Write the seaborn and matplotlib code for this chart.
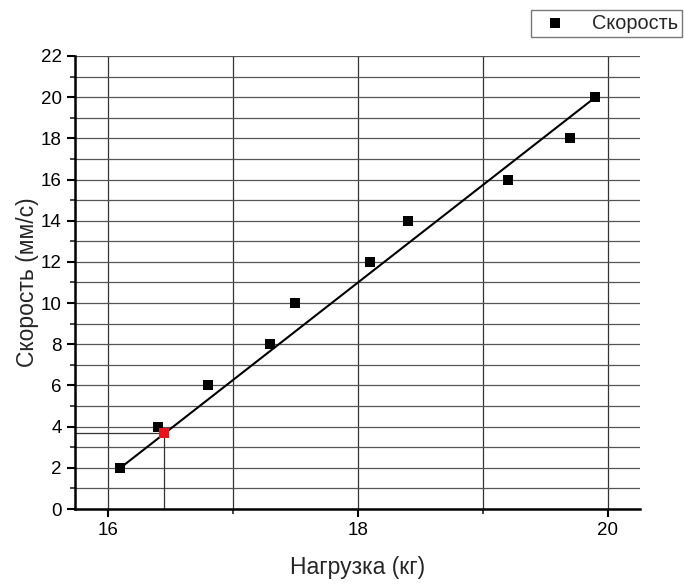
import numpy as np
import pandas as pd
import seaborn as sns
import matplotlib.pyplot as plt
from matplotlib.ticker import MultipleLocator

# -------------------------------
# Data
# -------------------------------
load_kg = [16.1, 16.4, 16.8, 17.3, 17.5, 18.1, 18.4, 19.2, 19.7, 19.9]
speed = [2, 4, 6, 8, 10, 12, 14, 16, 18, 20]

line_x = [16.1, 19.9]
line_y = [2, 20]

red_x = [16.45]
red_y = [3.68]

df = pd.DataFrame({"load": load_kg, "speed": speed})
line_df = pd.DataFrame({"x": line_x, "y": line_y})

# -------------------------------
# Style
# -------------------------------
sns.set_style("white")
plt.rcParams['font.family'] = ['Liberation Sans', 'DejaVu Sans']

fig = plt.figure(figsize=(6.84, 5.85), dpi=100)
ax = fig.add_axes([0.1096, 0.1299, 0.826, 0.7744])

# grid
ax.set_xlim(15.736, 20.256)
ax.set_ylim(0, 22)
ax.xaxis.set_major_locator(MultipleLocator(2))
ax.xaxis.set_minor_locator(MultipleLocator(1))
ax.yaxis.set_major_locator(MultipleLocator(2))
ax.yaxis.set_minor_locator(MultipleLocator(1))
ax.grid(True, which='both', axis='y', color='#555555', lw=0.9)
ax.grid(True, which='both', axis='x', color='#333333', lw=0.9)
ax.set_axisbelow(True)

# drop lines from the red point
ax.plot([ax.get_xlim()[0], red_x[0]], [red_y[0], red_y[0]], color='#333333', lw=0.9, zorder=1)
ax.plot([red_x[0], red_x[0]], [0, red_y[0]], color='#333333', lw=0.9, zorder=1)

# line + points
sns.lineplot(data=line_df, x="x", y="y", ax=ax, color='black', lw=1.5,
             legend=False, zorder=3)
sns.scatterplot(data=df, x="load", y="speed", ax=ax, marker='s', s=60,
                color='black', edgecolor='black', linewidth=0, zorder=4,
                label="Скорость")
ax.scatter(red_x, red_y, marker='s', s=60, color='#e8141b', linewidth=0, zorder=5)

# spines / ticks
for side in ['top', 'right']:
    ax.spines[side].set_visible(False)
for side in ['left', 'bottom']:
    ax.spines[side].set_linewidth(1.8)
    ax.spines[side].set_color('black')

ax.tick_params(which='major', direction='out', length=6, width=1.5,
               labelsize=13.5, left=True, bottom=True, colors='black')
ax.tick_params(which='minor', direction='out', length=3.5, width=1.2,
               left=True, bottom=True)

ax.set_xlabel("Нагрузка (кг)", fontsize=16.5, labelpad=12)
ax.set_ylabel("Скорость (мм/с)", fontsize=16.5, labelpad=1)

# legend outside, top right
handles, labels = ax.get_legend_handles_labels()
ax.get_legend().remove()
fig.legend(handles, labels, loc='upper right', bbox_to_anchor=(1.015, 1.004),
           fontsize=14.3, frameon=True, fancybox=False, edgecolor='#777777',
           framealpha=1, borderpad=0.2, handletextpad=0.9, markerscale=0.85,
           borderaxespad=0.6)

plt.savefig("out.png", dpi=100)
